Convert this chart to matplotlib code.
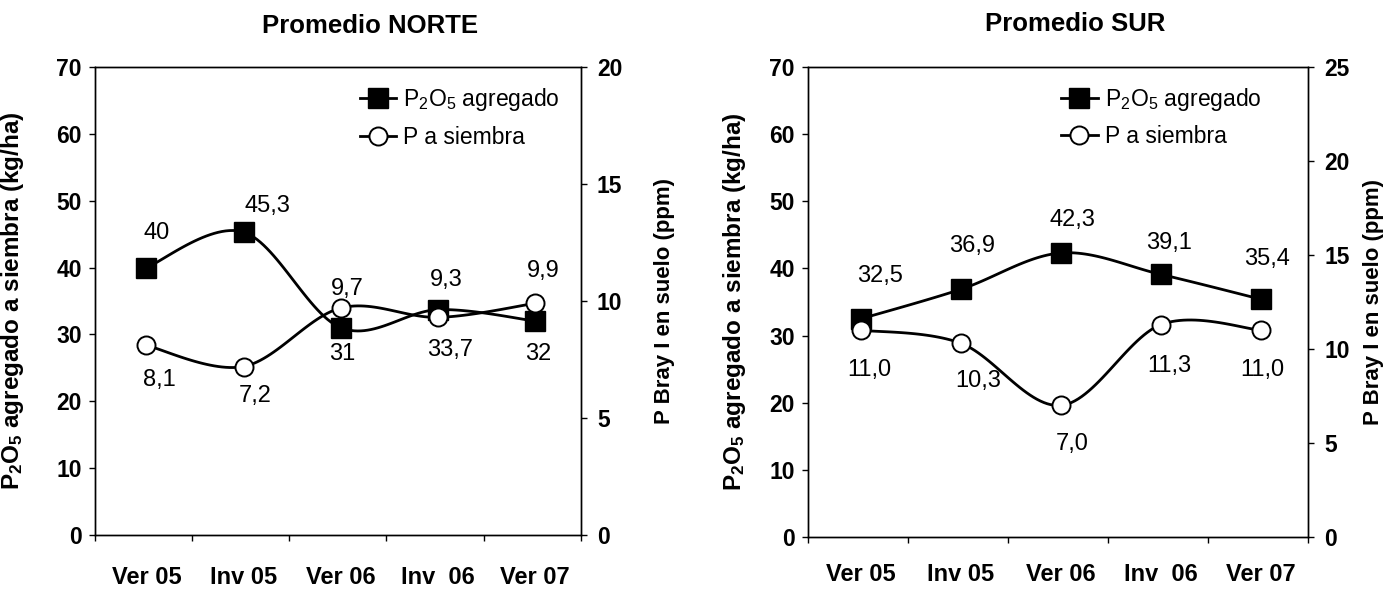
import numpy as np
import matplotlib
matplotlib.use("Agg")
import matplotlib.pyplot as plt
from matplotlib.lines import Line2D

plt.rcParams["font.family"] = ["Liberation Sans", "DejaVu Sans"]
plt.rcParams["mathtext.fontset"] = "custom"
plt.rcParams["mathtext.rm"] = "Liberation Sans"
plt.rcParams["mathtext.bf"] = "Liberation Sans:bold"
plt.rcParams["mathtext.it"] = "Liberation Sans:italic"

# -----------------------------
# DATA
# -----------------------------

campanas = ["Ver 05", "Inv 05", "Ver 06", "Inv  06", "Ver 07"]

norte_p2o5 = [40, 45.3, 31, 33.7, 32]
norte_p = [8.1, 7.2, 9.7, 9.3, 9.9]
norte_p2o5_txt = ["40", "45,3", "31", "33,7", "32"]
norte_p_txt = ["8,1", "7,2", "9,7", "9,3", "9,9"]

sur_p2o5 = [32.5, 36.9, 42.3, 39.1, 35.4]
sur_p = [11.0, 10.3, 7.0, 11.3, 11.0]
sur_p2o5_txt = ["32,5", "36,9", "42,3", "39,1", "35,4"]
sur_p_txt = ["11,0", "10,3", "7,0", "11,3", "11,0"]

# label offsets in points
norte_p2o5_off = [(7, 25), (17, 19), (1, -19), (9, -29), (2, -24)]
norte_p_off = [(9, -25), (8, -21), (5, 14), (6, 27), (6, 23)]
sur_p2o5_off = [(14, 31), (8, 31), (8, 24), (6, 23), (4, 29)]
sur_p_off = [(6, -29), (12, -27), (8, -28), (6, -30), (1, -29)]


def smooth(x, y, n=30):
    # Excel-like smoothed line (Bezier through the points)
    x = np.asarray(x, float)
    y = np.asarray(y, float)
    px = np.concatenate([[x[0]], x, [x[-1]]])
    py = np.concatenate([[y[0]], y, [y[-1]]])
    t = np.linspace(0, 1, n)
    xs, ys = [], []
    for i in range(len(x) - 1):
        p0 = np.array([px[i + 1], py[i + 1]])
        p3 = np.array([px[i + 2], py[i + 2]])
        c1 = p0 + (p3 - np.array([px[i], py[i]])) / 6
        c2 = p3 - (np.array([px[i + 3], py[i + 3]]) - p0) / 6
        b = ((1 - t) ** 3)[:, None] * p0 + (3 * (1 - t) ** 2 * t)[:, None] * c1 \
            + (3 * (1 - t) * t ** 2)[:, None] * c2 + (t ** 3)[:, None] * p3
        xs.append(b[:, 0])
        ys.append(b[:, 1])
    return np.concatenate(xs), np.concatenate(ys)


def panel(ax, p2o5, p, p2o5_txt, p_txt, p2o5_off, p_off, ymax2,
          ylab_x, y2lab_x, leg_pos, xpad):
    pos = np.arange(len(campanas)) + 0.53
    ax2 = ax.twinx()

    sx, sy = smooth(pos, p2o5)
    ax.plot(sx, sy, color="black", lw=2, zorder=2)
    ax.plot(pos, p2o5, ls="none", marker="s", ms=14.5, color="black", zorder=3)
    for xi, yi, t, o in zip(pos, p2o5, p2o5_txt, p2o5_off):
        ax.annotate(t, (xi, yi), xytext=o, textcoords="offset points",
                    ha="center", va="center", fontsize=17)

    sx, sy = smooth(pos, p)
    ax2.plot(sx, sy, color="black", lw=2, zorder=2)
    ax2.plot(pos, p, ls="none", marker="o", ms=13, mfc="white",
             mec="black", mew=1.4, zorder=3)
    for xi, yi, t, o in zip(pos, p, p_txt, p_off):
        ax2.annotate(t, (xi, yi), xytext=o, textcoords="offset points",
                     ha="center", va="center", fontsize=17)

    ax.set_xlim(0, 5)
    ax.set_ylim(0, 70)
    ax.set_yticks(range(0, 71, 10))
    ax2.set_ylim(0, ymax2)
    ax2.set_yticks(range(0, ymax2 + 1, 5))

    ax.set_xticks(range(0, 6))
    ax.set_xticklabels([])
    ax.set_xticks(pos, minor=True)
    ax.set_xticklabels(campanas, minor=True, fontsize=17, fontweight="bold")
    ax.tick_params(axis="x", which="minor", length=0, pad=xpad)
    ax.tick_params(axis="x", which="major", direction="out", length=4.5, width=1)
    ax.tick_params(axis="y", direction="out", length=4.5, width=1, pad=5,
                   labelsize=16.5)
    ax2.tick_params(axis="y", direction="out", length=4.5, width=1, pad=7,
                    labelsize=16.5)
    for lab in ax.get_yticklabels() + ax2.get_yticklabels():
        lab.set_fontweight("bold")
    for a in (ax, ax2):
        for s in a.spines.values():
            s.set_linewidth(1)

    ax.set_ylabel(r"P$_\mathbf{2}$O$_\mathbf{5}$ agregado a siembra (kg/ha)",
                  fontsize=17.5, fontweight="bold")
    ax.yaxis.set_label_coords(ylab_x, 0.5)
    ax2.set_ylabel("P Bray I en suelo (ppm)", fontsize=16, fontweight="bold")
    ax2.yaxis.set_label_coords(y2lab_x, 0.5)

    handles = [
        Line2D([], [], color="black", lw=2, marker="s", ms=14.5),
        Line2D([], [], color="black", lw=2, marker="o", ms=13,
               mfc="white", mec="black", mew=1.4),
    ]
    ax.legend(handles, ["P$_2$O$_5$ agregado", "P a siembra"],
              loc="upper left", bbox_to_anchor=leg_pos, frameon=False,
              fontsize=16.5, handlelength=1.6, handletextpad=0.3,
              labelspacing=0.55, borderaxespad=0, borderpad=0)


fig = plt.figure(figsize=(13.86, 5.89), dpi=100)
ax_n = fig.add_axes([0.0685, 0.0917, 0.3506, 0.7946])
ax_s = fig.add_axes([0.583, 0.0883, 0.3608, 0.798])

panel(ax_n, norte_p2o5, norte_p, norte_p2o5_txt, norte_p_txt,
      norte_p2o5_off, norte_p_off, 20, -0.141, 1.150, (0.545, 0.959), 22)
panel(ax_s, sur_p2o5, sur_p, sur_p2o5_txt, sur_p_txt,
      sur_p2o5_off, sur_p_off, 25, -0.12, 1.11, (0.506, 0.96), 19)

fig.text(0.267, 0.956, "Promedio NORTE", ha="center", va="center",
         fontsize=18.5, fontweight="bold")
fig.text(0.776, 0.959, "Promedio SUR", ha="center", va="center",
         fontsize=18.5, fontweight="bold")

fig.savefig("out.png", dpi=100)
